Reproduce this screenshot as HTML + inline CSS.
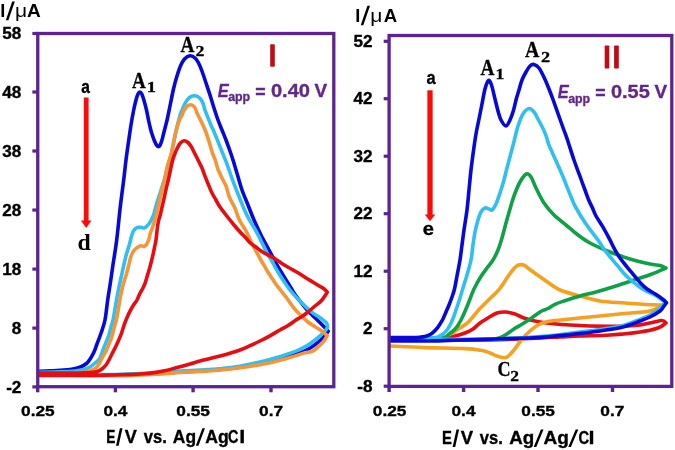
<!DOCTYPE html>
<html><head><meta charset="utf-8"><title>Cyclic voltammograms</title>
<style>
html,body{margin:0;padding:0;background:#fff;}
body{width:675px;height:450px;overflow:hidden;font-family:"Liberation Sans",sans-serif;}
svg{display:block;will-change:transform;}
</style></head><body>
<svg width="675" height="450" viewBox="0 0 675 450">
<path d="M39.00 371.30 C40.83 371.23 46.50 371.05 50.00 370.90 C53.50 370.75 56.40 370.68 60.00 370.40 C63.60 370.12 68.20 369.77 71.60 369.20 C75.00 368.63 77.92 367.95 80.40 367.00 C82.88 366.05 84.85 364.88 86.50 363.50 C88.15 362.12 89.05 360.62 90.30 358.70 C91.55 356.78 92.88 354.45 94.00 352.00 C95.12 349.55 95.83 347.12 97.00 344.00 C98.17 340.88 99.67 337.30 101.00 333.30 C102.33 329.30 103.88 325.55 105.00 320.00 C106.12 314.45 106.78 306.33 107.70 300.00 C108.62 293.67 109.67 287.55 110.50 282.00 C111.33 276.45 111.67 273.70 112.70 266.70 C113.73 259.70 115.43 250.00 116.70 240.00 C117.97 230.00 119.13 216.70 120.30 206.70 C121.47 196.70 122.75 187.78 123.70 180.00 C124.65 172.22 125.20 166.33 126.00 160.00 C126.80 153.67 127.67 147.83 128.50 142.00 C129.33 136.17 130.17 130.17 131.00 125.00 C131.83 119.83 132.67 115.17 133.50 111.00 C134.33 106.83 135.25 102.83 136.00 100.00 C136.75 97.17 137.37 95.33 138.00 94.00 C138.63 92.67 139.17 92.00 139.80 92.00 C140.43 92.00 141.10 92.58 141.80 94.00 C142.50 95.42 143.22 97.83 144.00 100.50 C144.78 103.17 145.75 106.75 146.50 110.00 C147.25 113.25 147.87 117.00 148.50 120.00 C149.13 123.00 149.72 125.67 150.30 128.00 C150.88 130.33 151.33 131.92 152.00 134.00 C152.67 136.08 153.55 138.67 154.30 140.50 C155.05 142.33 155.85 143.98 156.50 145.00 C157.15 146.02 157.58 146.60 158.20 146.60 C158.82 146.60 159.57 146.10 160.20 145.00 C160.83 143.90 161.45 141.83 162.00 140.00 C162.55 138.17 162.95 136.17 163.50 134.00 C164.05 131.83 164.67 129.50 165.30 127.00 C165.93 124.50 166.45 122.83 167.30 119.00 C168.15 115.17 169.37 109.00 170.40 104.00 C171.43 99.00 172.40 93.67 173.50 89.00 C174.60 84.33 175.83 79.83 177.00 76.00 C178.17 72.17 179.25 68.83 180.50 66.00 C181.75 63.17 182.92 60.70 184.50 59.00 C186.08 57.30 188.17 55.88 190.00 55.80 C191.83 55.72 193.92 56.97 195.50 58.50 C197.08 60.03 198.25 62.42 199.50 65.00 C200.75 67.58 201.92 71.00 203.00 74.00 C204.08 77.00 204.83 79.50 206.00 83.00 C207.17 86.50 208.67 90.83 210.00 95.00 C211.33 99.17 212.67 103.83 214.00 108.00 C215.33 112.17 216.67 116.33 218.00 120.00 C219.33 123.67 220.67 126.67 222.00 130.00 C223.33 133.33 224.67 136.50 226.00 140.00 C227.33 143.50 228.83 147.67 230.00 151.00 C231.17 154.33 231.75 156.00 233.00 160.00 C234.25 164.00 236.00 170.00 237.50 175.00 C239.00 180.00 240.25 185.00 242.00 190.00 C243.75 195.00 246.00 200.00 248.00 205.00 C250.00 210.00 251.83 215.00 254.00 220.00 C256.17 225.00 258.50 230.00 261.00 235.00 C263.50 240.00 266.33 245.00 269.00 250.00 C271.67 255.00 274.33 260.28 277.00 265.00 C279.67 269.72 282.67 274.47 285.00 278.30 C287.33 282.13 289.15 285.03 291.00 288.00 C292.85 290.97 294.35 293.60 296.10 296.10 C297.85 298.60 299.65 300.68 301.50 303.00 C303.35 305.32 305.32 307.90 307.20 310.00 C309.08 312.10 310.57 313.38 312.80 315.60 C315.03 317.82 318.40 321.08 320.60 323.30 C322.80 325.52 324.73 327.57 326.00 328.90 C327.27 330.23 327.83 330.90 328.20 331.30 C327.48 332.20 325.55 334.88 323.90 336.70 C322.25 338.52 320.52 340.35 318.30 342.20 C316.08 344.05 313.37 346.13 310.60 347.80 C307.83 349.47 305.03 350.90 301.70 352.20 C298.37 353.50 294.22 354.42 290.60 355.60 C286.98 356.78 283.43 358.33 280.00 359.30 C276.57 360.27 273.33 360.72 270.00 361.40 C266.67 362.08 263.33 362.75 260.00 363.40 C256.67 364.05 253.33 364.67 250.00 365.30 C246.67 365.93 245.00 366.50 240.00 367.20 C235.00 367.90 226.67 368.87 220.00 369.50 C213.33 370.13 206.67 370.58 200.00 371.00 C193.33 371.42 186.67 371.58 180.00 372.00 C173.33 372.42 168.33 373.08 160.00 373.50 C151.67 373.92 140.00 374.25 130.00 374.50 C120.00 374.75 110.00 374.92 100.00 375.00 C90.00 375.08 80.17 375.00 70.00 375.00 C59.83 375.00 44.17 375.00 39.00 375.00" fill="none" stroke="#0808d8" stroke-width="3.60" stroke-linejoin="round" stroke-linecap="round"/>
<path d="M39.00 372.30 C42.50 372.22 54.00 372.02 60.00 371.80 C66.00 371.58 71.00 371.38 75.00 371.00 C79.00 370.62 81.50 370.17 84.00 369.50 C86.50 368.83 88.17 368.08 90.00 367.00 C91.83 365.92 93.38 364.38 95.00 363.00 C96.62 361.62 98.25 361.20 99.70 358.70 C101.15 356.20 102.48 351.12 103.70 348.00 C104.92 344.88 106.12 342.22 107.00 340.00 C107.88 337.78 108.33 336.87 109.00 334.70 C109.67 332.53 110.33 329.45 111.00 327.00 C111.67 324.55 112.37 322.83 113.00 320.00 C113.63 317.17 114.18 313.55 114.80 310.00 C115.42 306.45 116.00 302.53 116.70 298.70 C117.40 294.87 118.12 291.23 119.00 287.00 C119.88 282.77 121.08 277.47 122.00 273.30 C122.92 269.13 123.72 265.33 124.50 262.00 C125.28 258.67 125.95 255.97 126.70 253.30 C127.45 250.63 128.35 248.22 129.00 246.00 C129.65 243.78 130.15 241.75 130.60 240.00 C131.05 238.25 131.18 237.05 131.70 235.50 C132.22 233.95 132.98 231.92 133.70 230.70 C134.42 229.48 135.23 228.77 136.00 228.20 C136.77 227.63 137.47 227.43 138.30 227.30 C139.13 227.17 140.00 227.28 141.00 227.40 C142.00 227.52 143.30 228.23 144.30 228.00 C145.30 227.77 146.10 226.88 147.00 226.00 C147.90 225.12 148.90 223.87 149.70 222.70 C150.50 221.53 151.13 220.33 151.80 219.00 C152.47 217.67 153.13 216.37 153.70 214.70 C154.27 213.03 154.72 210.78 155.20 209.00 C155.68 207.22 156.05 205.83 156.60 204.00 C157.15 202.17 157.80 200.17 158.50 198.00 C159.20 195.83 160.07 193.33 160.80 191.00 C161.53 188.67 162.22 186.17 162.90 184.00 C163.58 181.83 164.12 180.88 164.90 178.00 C165.68 175.12 166.82 169.70 167.60 166.70 C168.38 163.70 168.93 162.23 169.60 160.00 C170.27 157.77 170.93 156.08 171.60 153.30 C172.27 150.52 172.93 146.63 173.60 143.30 C174.27 139.97 175.00 136.18 175.60 133.30 C176.20 130.42 176.67 128.22 177.20 126.00 C177.73 123.78 178.28 121.92 178.80 120.00 C179.32 118.08 179.77 116.13 180.30 114.50 C180.83 112.87 181.30 111.87 182.00 110.20 C182.70 108.53 183.58 106.28 184.50 104.50 C185.42 102.72 186.50 100.78 187.50 99.50 C188.50 98.22 189.35 97.42 190.50 96.80 C191.65 96.18 193.15 95.80 194.40 95.80 C195.65 95.80 196.90 96.18 198.00 96.80 C199.10 97.42 200.13 98.30 201.00 99.50 C201.87 100.70 202.53 102.22 203.20 104.00 C203.87 105.78 204.15 107.78 205.00 110.20 C205.85 112.62 207.18 115.72 208.30 118.50 C209.42 121.28 210.87 124.98 211.70 126.90 C212.53 128.82 212.28 127.63 213.30 130.00 C214.32 132.37 216.32 137.40 217.80 141.10 C219.28 144.80 220.72 148.50 222.20 152.20 C223.68 155.90 225.03 158.85 226.70 163.30 C228.37 167.75 230.65 174.62 232.20 178.90 C233.75 183.18 234.70 185.65 236.00 189.00 C237.30 192.35 238.58 195.50 240.00 199.00 C241.42 202.50 242.93 206.50 244.50 210.00 C246.07 213.50 247.47 216.48 249.40 220.00 C251.33 223.52 254.05 227.40 256.10 231.10 C258.15 234.80 259.85 238.50 261.70 242.20 C263.55 245.90 265.48 250.17 267.20 253.30 C268.92 256.43 270.52 258.40 272.00 261.00 C273.48 263.60 274.27 265.73 276.10 268.90 C277.93 272.07 280.68 276.48 283.00 280.00 C285.32 283.52 287.50 286.83 290.00 290.00 C292.50 293.17 295.50 296.33 298.00 299.00 C300.50 301.67 302.72 303.80 305.00 306.00 C307.28 308.20 309.70 310.57 311.70 312.20 C313.70 313.83 315.33 314.68 317.00 315.80 C318.67 316.92 320.37 317.95 321.70 318.90 C323.03 319.85 324.15 320.73 325.00 321.50 C325.85 322.27 326.37 322.58 326.80 323.50 C327.23 324.42 327.47 326.42 327.60 327.00 C327.17 327.67 325.98 329.77 325.00 331.00 C324.02 332.23 323.37 332.90 321.70 334.40 C320.03 335.90 317.42 338.13 315.00 340.00 C312.58 341.87 310.35 343.75 307.20 345.60 C304.05 347.45 299.80 349.53 296.10 351.10 C292.40 352.67 289.35 353.60 285.00 355.00 C280.65 356.40 275.00 358.17 270.00 359.50 C265.00 360.83 260.00 361.87 255.00 363.00 C250.00 364.13 245.83 365.35 240.00 366.30 C234.17 367.25 226.67 368.08 220.00 368.70 C213.33 369.32 206.67 369.62 200.00 370.00 C193.33 370.38 186.67 370.58 180.00 371.00 C173.33 371.42 168.33 372.00 160.00 372.50 C151.67 373.00 140.00 373.65 130.00 374.00 C120.00 374.35 110.00 374.52 100.00 374.60 C90.00 374.68 80.17 374.60 70.00 374.50 C59.83 374.40 44.17 374.08 39.00 374.00" fill="none" stroke="#30bff0" stroke-width="3.60" stroke-linejoin="round" stroke-linecap="round"/>
<path d="M39.00 373.50 C42.50 373.42 53.17 373.17 60.00 373.00 C66.83 372.83 75.00 372.83 80.00 372.50 C85.00 372.17 87.33 371.75 90.00 371.00 C92.67 370.25 94.42 369.33 96.00 368.00 C97.58 366.67 98.55 364.55 99.50 363.00 C100.45 361.45 100.57 360.75 101.70 358.70 C102.83 356.65 105.08 353.15 106.30 350.70 C107.52 348.25 108.10 346.23 109.00 344.00 C109.90 341.77 110.87 339.97 111.70 337.30 C112.53 334.63 113.23 330.88 114.00 328.00 C114.77 325.12 115.60 323.00 116.30 320.00 C117.00 317.00 117.62 313.33 118.20 310.00 C118.78 306.67 119.30 302.83 119.80 300.00 C120.30 297.17 120.72 295.22 121.20 293.00 C121.68 290.78 122.15 288.87 122.70 286.70 C123.25 284.53 123.83 282.23 124.50 280.00 C125.17 277.77 125.98 275.80 126.70 273.30 C127.42 270.80 128.13 267.67 128.80 265.00 C129.47 262.33 130.13 259.22 130.70 257.30 C131.27 255.38 131.65 254.60 132.20 253.50 C132.75 252.40 133.37 251.53 134.00 250.70 C134.63 249.87 135.22 249.17 136.00 248.50 C136.78 247.83 137.82 247.15 138.70 246.70 C139.58 246.25 140.42 245.85 141.30 245.80 C142.18 245.75 143.13 246.62 144.00 246.40 C144.87 246.18 145.70 245.65 146.50 244.50 C147.30 243.35 148.17 241.37 148.80 239.50 C149.43 237.63 149.72 235.22 150.30 233.30 C150.88 231.38 151.63 229.98 152.30 228.00 C152.97 226.02 153.63 223.62 154.30 221.40 C154.97 219.18 155.63 217.27 156.30 214.70 C156.97 212.13 157.63 208.90 158.30 206.00 C158.97 203.10 159.63 200.20 160.30 197.30 C160.97 194.40 161.60 191.48 162.30 188.60 C163.00 185.72 163.67 183.65 164.50 180.00 C165.33 176.35 166.50 170.03 167.30 166.70 C168.10 163.37 168.63 162.23 169.30 160.00 C169.97 157.77 170.63 156.08 171.30 153.30 C171.97 150.52 172.62 146.60 173.30 143.30 C173.98 140.00 174.75 136.23 175.40 133.50 C176.05 130.77 176.53 129.15 177.20 126.90 C177.87 124.65 178.65 121.85 179.40 120.00 C180.15 118.15 180.93 117.38 181.70 115.80 C182.47 114.22 183.12 112.08 184.00 110.50 C184.88 108.92 185.90 107.27 187.00 106.30 C188.10 105.33 189.47 104.70 190.60 104.70 C191.73 104.70 192.93 105.50 193.80 106.30 C194.67 107.10 195.23 108.28 195.80 109.50 C196.37 110.72 196.50 112.02 197.20 113.60 C197.90 115.18 199.07 117.15 200.00 119.00 C200.93 120.85 201.88 122.70 202.80 124.70 C203.72 126.70 204.48 128.27 205.50 131.00 C206.52 133.73 207.78 137.57 208.90 141.10 C210.02 144.63 211.08 148.87 212.20 152.20 C213.32 155.53 214.67 158.32 215.60 161.10 C216.53 163.88 216.97 166.58 217.80 168.90 C218.63 171.22 219.73 173.15 220.60 175.00 C221.47 176.85 222.08 178.15 223.00 180.00 C223.92 181.85 225.03 183.23 226.10 186.10 C227.17 188.97 227.92 193.50 229.40 197.20 C230.88 200.90 233.33 204.50 235.00 208.30 C236.67 212.10 237.55 216.20 239.40 220.00 C241.25 223.80 244.02 227.18 246.10 231.10 C248.18 235.02 250.17 240.02 251.90 243.50 C253.63 246.98 255.00 249.25 256.50 252.00 C258.00 254.75 259.52 257.55 260.90 260.00 C262.28 262.45 263.50 264.48 264.80 266.70 C266.10 268.92 267.38 271.20 268.70 273.30 C270.02 275.40 271.37 277.30 272.70 279.30 C274.03 281.30 275.15 283.18 276.70 285.30 C278.25 287.42 280.23 289.77 282.00 292.00 C283.77 294.23 285.63 296.45 287.30 298.70 C288.97 300.95 290.55 303.53 292.00 305.50 C293.45 307.47 294.67 309.00 296.00 310.50 C297.33 312.00 298.67 313.17 300.00 314.50 C301.33 315.83 302.67 317.25 304.00 318.50 C305.33 319.75 306.50 320.83 308.00 322.00 C309.50 323.17 311.33 324.42 313.00 325.50 C314.67 326.58 316.33 327.42 318.00 328.50 C319.67 329.58 321.47 330.82 323.00 332.00 C324.53 333.18 326.50 335.00 327.20 335.60 C326.65 336.52 325.38 339.25 323.90 341.10 C322.42 342.95 320.15 345.03 318.30 346.70 C316.45 348.37 315.02 350.08 312.80 351.10 C310.58 352.12 307.78 352.05 305.00 352.80 C302.22 353.55 299.43 354.58 296.10 355.60 C292.77 356.62 289.35 357.70 285.00 358.90 C280.65 360.10 275.00 361.70 270.00 362.80 C265.00 363.90 260.00 364.67 255.00 365.50 C250.00 366.33 245.83 367.05 240.00 367.80 C234.17 368.55 226.67 369.38 220.00 370.00 C213.33 370.62 206.67 371.08 200.00 371.50 C193.33 371.92 186.67 372.08 180.00 372.50 C173.33 372.92 168.33 373.50 160.00 374.00 C151.67 374.50 140.00 375.20 130.00 375.50 C120.00 375.80 110.00 375.83 100.00 375.80 C90.00 375.77 80.17 375.43 70.00 375.30 C59.83 375.17 44.17 375.05 39.00 375.00" fill="none" stroke="#f59538" stroke-width="3.60" stroke-linejoin="round" stroke-linecap="round"/>
<path d="M39.00 373.00 C42.50 373.00 53.17 373.00 60.00 373.00 C66.83 373.00 75.00 373.07 80.00 373.00 C85.00 372.93 87.50 372.77 90.00 372.60 C92.50 372.43 93.50 372.30 95.00 372.00 C96.50 371.70 97.75 371.38 99.00 370.80 C100.25 370.22 101.33 369.47 102.50 368.50 C103.67 367.53 104.92 366.42 106.00 365.00 C107.08 363.58 107.97 361.92 109.00 360.00 C110.03 358.08 111.08 355.72 112.20 353.50 C113.32 351.28 114.65 348.87 115.70 346.70 C116.75 344.53 117.62 342.50 118.50 340.50 C119.38 338.50 120.25 336.70 121.00 334.70 C121.75 332.70 122.33 330.50 123.00 328.50 C123.67 326.50 124.25 324.70 125.00 322.70 C125.75 320.70 126.62 318.50 127.50 316.50 C128.38 314.50 129.30 312.62 130.30 310.70 C131.30 308.78 132.38 306.78 133.50 305.00 C134.62 303.22 135.92 301.95 137.00 300.00 C138.08 298.05 139.00 295.30 140.00 293.30 C141.00 291.30 142.12 289.77 143.00 288.00 C143.88 286.23 144.55 284.87 145.30 282.70 C146.05 280.53 146.83 277.23 147.50 275.00 C148.17 272.77 148.63 271.63 149.30 269.30 C149.97 266.97 150.83 263.67 151.50 261.00 C152.17 258.33 152.75 255.80 153.30 253.30 C153.85 250.80 154.35 248.22 154.80 246.00 C155.25 243.78 155.63 242.50 156.00 240.00 C156.37 237.50 156.62 234.00 157.00 231.00 C157.38 228.00 157.75 224.72 158.30 222.00 C158.85 219.28 159.63 217.37 160.30 214.70 C160.97 212.03 161.63 208.90 162.30 206.00 C162.97 203.10 163.63 200.30 164.30 197.30 C164.97 194.30 165.63 190.88 166.30 188.00 C166.97 185.12 167.68 182.67 168.30 180.00 C168.92 177.33 169.27 175.33 170.00 172.00 C170.73 168.67 171.90 163.00 172.70 160.00 C173.50 157.00 174.13 155.78 174.80 154.00 C175.47 152.22 175.83 151.05 176.70 149.30 C177.57 147.55 178.78 144.93 180.00 143.50 C181.22 142.07 182.67 140.87 184.00 140.70 C185.33 140.53 186.78 141.50 188.00 142.50 C189.22 143.50 190.30 145.12 191.30 146.70 C192.30 148.28 193.10 150.23 194.00 152.00 C194.90 153.77 195.78 155.47 196.70 157.30 C197.62 159.13 198.62 161.22 199.50 163.00 C200.38 164.78 201.25 166.25 202.00 168.00 C202.75 169.75 203.33 171.72 204.00 173.50 C204.67 175.28 205.17 176.62 206.00 178.70 C206.83 180.78 208.00 183.62 209.00 186.00 C210.00 188.38 210.83 190.67 212.00 193.00 C213.17 195.33 214.67 197.67 216.00 200.00 C217.33 202.33 218.33 204.50 220.00 207.00 C221.67 209.50 223.67 212.00 226.00 215.00 C228.33 218.00 231.50 222.00 234.00 225.00 C236.50 228.00 239.17 231.00 241.00 233.00 C242.83 235.00 243.50 235.38 245.00 237.00 C246.50 238.62 248.25 241.07 250.00 242.70 C251.75 244.33 253.72 245.47 255.50 246.80 C257.28 248.13 258.87 249.47 260.70 250.70 C262.53 251.93 264.50 253.10 266.50 254.20 C268.50 255.30 270.67 256.12 272.70 257.30 C274.73 258.48 276.70 259.97 278.70 261.30 C280.70 262.63 282.70 264.07 284.70 265.30 C286.70 266.53 288.70 267.58 290.70 268.70 C292.70 269.82 294.82 270.90 296.70 272.00 C298.58 273.10 300.23 274.18 302.00 275.30 C303.77 276.42 305.52 277.58 307.30 278.70 C309.08 279.82 310.92 280.90 312.70 282.00 C314.48 283.10 316.53 284.43 318.00 285.30 C319.47 286.17 320.38 286.53 321.50 287.20 C322.62 287.87 323.73 288.45 324.70 289.30 C325.67 290.15 326.87 291.80 327.30 292.30 C326.42 293.58 324.05 297.72 322.00 300.00 C319.95 302.28 317.33 304.00 315.00 306.00 C312.67 308.00 310.17 310.25 308.00 312.00 C305.83 313.75 304.00 315.17 302.00 316.50 C300.00 317.83 298.33 318.50 296.00 320.00 C293.67 321.50 290.67 323.83 288.00 325.50 C285.33 327.17 283.00 328.28 280.00 330.00 C277.00 331.72 273.33 333.97 270.00 335.80 C266.67 337.63 263.33 339.35 260.00 341.00 C256.67 342.65 253.33 344.20 250.00 345.70 C246.67 347.20 243.33 348.75 240.00 350.00 C236.67 351.25 233.33 352.20 230.00 353.20 C226.67 354.20 223.33 355.10 220.00 356.00 C216.67 356.90 213.33 357.77 210.00 358.60 C206.67 359.43 203.33 360.10 200.00 361.00 C196.67 361.90 194.00 362.87 190.00 364.00 C186.00 365.13 180.00 366.72 176.00 367.80 C172.00 368.88 169.33 369.73 166.00 370.50 C162.67 371.27 160.33 371.82 156.00 372.40 C151.67 372.98 146.00 373.60 140.00 374.00 C134.00 374.40 126.67 374.60 120.00 374.80 C113.33 375.00 106.67 375.08 100.00 375.20 C93.33 375.32 86.67 375.45 80.00 375.50 C73.33 375.55 66.83 375.50 60.00 375.50 C53.17 375.50 42.50 375.50 39.00 375.50" fill="none" stroke="#e50d12" stroke-width="3.60" stroke-linejoin="round" stroke-linecap="round"/>
<path d="M390.00 339.00 C398.33 338.83 429.17 338.50 440.00 338.00 C450.83 337.50 450.83 336.83 455.00 336.00 C459.17 335.17 462.00 334.17 465.00 333.00 C468.00 331.83 470.50 330.67 473.00 329.00 C475.50 327.33 477.50 324.83 480.00 323.00 C482.50 321.17 485.17 319.67 488.00 318.00 C490.83 316.33 494.00 314.00 497.00 313.00 C500.00 312.00 503.00 311.83 506.00 312.00 C509.00 312.17 512.00 313.00 515.00 314.00 C518.00 315.00 519.83 316.67 524.00 318.00 C528.17 319.33 532.33 320.83 540.00 322.00 C547.67 323.17 558.33 324.27 570.00 325.00 C581.67 325.73 599.17 326.32 610.00 326.40 C620.83 326.48 628.33 326.07 635.00 325.50 C641.67 324.93 645.50 323.83 650.00 323.00 C654.50 322.17 659.33 320.50 662.00 320.50 C664.67 320.50 665.33 322.58 666.00 323.00 C664.67 323.83 662.33 326.50 658.00 328.00 C653.67 329.50 648.00 330.83 640.00 332.00 C632.00 333.17 620.00 334.33 610.00 335.00 C600.00 335.67 588.33 335.67 580.00 336.00 C571.67 336.33 566.67 336.67 560.00 337.00 C553.33 337.33 551.67 337.50 540.00 338.00 C528.33 338.50 515.00 339.67 490.00 340.00 C465.00 340.33 406.67 340.00 390.00 340.00" fill="none" stroke="#e50d12" stroke-width="3.60" stroke-linejoin="round" stroke-linecap="round"/>
<path d="M390.00 338.00 C398.33 337.92 430.67 337.80 440.00 337.50 C449.33 337.20 444.00 336.90 446.00 336.20 C448.00 335.50 449.83 334.57 452.00 333.30 C454.17 332.03 456.37 330.38 459.00 328.60 C461.63 326.82 465.30 324.78 467.80 322.60 C470.30 320.42 471.93 317.88 474.00 315.50 C476.07 313.12 478.28 310.38 480.20 308.30 C482.12 306.22 483.72 304.77 485.50 303.00 C487.28 301.23 489.23 299.32 490.90 297.70 C492.57 296.08 494.02 294.82 495.50 293.30 C496.98 291.78 498.47 290.25 499.80 288.60 C501.13 286.95 502.32 285.15 503.50 283.40 C504.68 281.65 505.73 279.83 506.90 278.10 C508.07 276.37 509.32 274.60 510.50 273.00 C511.68 271.40 512.83 269.75 514.00 268.50 C515.17 267.25 516.32 266.15 517.50 265.50 C518.68 264.85 519.85 264.57 521.10 264.60 C522.35 264.63 523.82 265.08 525.00 265.70 C526.18 266.32 526.37 266.92 528.20 268.30 C530.03 269.68 533.03 271.88 536.00 274.00 C538.97 276.12 542.00 278.33 546.00 281.00 C550.00 283.67 554.33 287.50 560.00 290.00 C565.67 292.50 573.33 294.17 580.00 296.00 C586.67 297.83 592.50 299.83 600.00 301.00 C607.50 302.17 617.50 302.42 625.00 303.00 C632.50 303.58 638.67 304.17 645.00 304.50 C651.33 304.83 660.00 304.92 663.00 305.00 C660.83 306.00 656.33 309.58 650.00 311.00 C643.67 312.42 633.33 312.67 625.00 313.50 C616.67 314.33 609.17 315.08 600.00 316.00 C590.83 316.92 577.50 318.25 570.00 319.00 C562.50 319.75 559.00 320.00 555.00 320.50 C551.00 321.00 548.83 321.25 546.00 322.00 C543.17 322.75 540.67 323.50 538.00 325.00 C535.33 326.50 532.67 328.67 530.00 331.00 C527.33 333.33 524.67 335.83 522.00 339.00 C519.33 342.17 516.67 346.92 514.00 350.00 C511.33 353.08 508.83 356.50 506.00 357.50 C503.17 358.50 499.67 356.75 497.00 356.00 C494.33 355.25 492.67 353.95 490.00 353.00 C487.33 352.05 485.17 351.03 481.00 350.30 C476.83 349.57 474.33 349.05 465.00 348.60 C455.67 348.15 437.50 348.03 425.00 347.60 C412.50 347.17 395.83 346.27 390.00 346.00" fill="none" stroke="#f5a01e" stroke-width="3.60" stroke-linejoin="round" stroke-linecap="round"/>
<path d="M390.00 339.00 C398.33 338.83 430.17 338.83 440.00 338.00 C449.83 337.17 446.33 335.67 449.00 334.00 C451.67 332.33 454.00 330.33 456.00 328.00 C458.00 325.67 459.33 323.17 461.00 320.00 C462.67 316.83 464.50 312.50 466.00 309.00 C467.50 305.50 468.67 302.33 470.00 299.00 C471.33 295.67 472.33 292.50 474.00 289.00 C475.67 285.50 477.83 281.50 480.00 278.00 C482.17 274.50 484.83 271.00 487.00 268.00 C489.17 265.00 491.17 263.00 493.00 260.00 C494.83 257.00 496.50 253.67 498.00 250.00 C499.50 246.33 500.67 242.50 502.00 238.00 C503.33 233.50 504.67 227.83 506.00 223.00 C507.33 218.17 508.67 213.50 510.00 209.00 C511.33 204.50 512.33 200.50 514.00 196.00 C515.67 191.50 517.93 185.67 520.00 182.00 C522.07 178.33 524.57 174.83 526.40 174.00 C528.23 173.17 529.40 174.67 531.00 177.00 C532.60 179.33 533.83 183.67 536.00 188.00 C538.17 192.33 541.00 198.50 544.00 203.00 C547.00 207.50 550.33 211.33 554.00 215.00 C557.67 218.67 562.00 221.67 566.00 225.00 C570.00 228.33 574.00 232.00 578.00 235.00 C582.00 238.00 584.67 240.17 590.00 243.00 C595.33 245.83 603.33 249.33 610.00 252.00 C616.67 254.67 623.33 257.00 630.00 259.00 C636.67 261.00 645.00 262.92 650.00 264.00 C655.00 265.08 657.33 264.83 660.00 265.50 C662.67 266.17 665.00 267.58 666.00 268.00 C663.67 269.00 657.33 272.00 652.00 274.00 C646.67 276.00 640.00 278.00 634.00 280.00 C628.00 282.00 622.33 284.00 616.00 286.00 C609.67 288.00 602.00 290.33 596.00 292.00 C590.00 293.67 585.33 294.50 580.00 296.00 C574.67 297.50 568.17 299.62 564.00 301.00 C559.83 302.38 557.67 303.05 555.00 304.30 C552.33 305.55 550.22 307.38 548.00 308.50 C545.78 309.62 543.87 309.83 541.70 311.00 C539.53 312.17 537.23 313.95 535.00 315.50 C532.77 317.05 530.55 318.80 528.30 320.30 C526.05 321.80 523.72 323.17 521.50 324.50 C519.28 325.83 517.08 326.97 515.00 328.30 C512.92 329.63 511.00 331.17 509.00 332.50 C507.00 333.83 505.00 335.30 503.00 336.30 C501.00 337.30 499.17 337.97 497.00 338.50 C494.83 339.03 507.83 339.25 490.00 339.50 C472.17 339.75 406.67 339.92 390.00 340.00" fill="none" stroke="#10a048" stroke-width="3.60" stroke-linejoin="round" stroke-linecap="round"/>
<path d="M390.00 339.00 C396.67 338.83 421.67 338.50 430.00 338.00 C438.33 337.50 437.17 337.33 440.00 336.00 C442.83 334.67 445.00 332.50 447.00 330.00 C449.00 327.50 450.50 324.33 452.00 321.00 C453.50 317.67 454.67 313.83 456.00 310.00 C457.33 306.17 458.83 301.67 460.00 298.00 C461.17 294.33 461.83 291.83 463.00 288.00 C464.17 284.17 465.67 279.67 467.00 275.00 C468.33 270.33 470.00 265.00 471.00 260.00 C472.00 255.00 472.33 249.67 473.00 245.00 C473.67 240.33 474.17 236.17 475.00 232.00 C475.83 227.83 477.00 223.33 478.00 220.00 C479.00 216.67 479.83 214.00 481.00 212.00 C482.17 210.00 483.67 208.50 485.00 208.00 C486.33 207.50 487.83 208.67 489.00 209.00 C490.17 209.33 490.83 210.83 492.00 210.00 C493.17 209.17 494.67 206.83 496.00 204.00 C497.33 201.17 498.67 197.00 500.00 193.00 C501.33 189.00 502.83 184.17 504.00 180.00 C505.17 175.83 505.83 172.50 507.00 168.00 C508.17 163.50 509.77 157.67 511.00 153.00 C512.23 148.33 513.23 144.50 514.40 140.00 C515.57 135.50 516.57 130.33 518.00 126.00 C519.43 121.67 521.17 116.92 523.00 114.00 C524.83 111.08 527.17 108.83 529.00 108.50 C530.83 108.17 532.42 110.08 534.00 112.00 C535.58 113.92 536.88 117.00 538.50 120.00 C540.12 123.00 542.37 127.17 543.70 130.00 C545.03 132.83 545.73 134.78 546.50 137.00 C547.27 139.22 547.33 140.68 548.30 143.30 C549.27 145.92 550.73 149.13 552.30 152.70 C553.87 156.27 555.92 160.70 557.70 164.70 C559.48 168.70 561.33 172.70 563.00 176.70 C564.67 180.70 566.28 185.15 567.70 188.70 C569.12 192.25 570.20 194.95 571.50 198.00 C572.80 201.05 573.08 202.67 575.50 207.00 C577.92 211.33 582.25 218.50 586.00 224.00 C589.75 229.50 595.08 235.92 598.00 240.00 C600.92 244.08 601.67 245.92 603.50 248.50 C605.33 251.08 606.80 252.80 609.00 255.50 C611.20 258.20 614.32 261.83 616.70 264.70 C619.08 267.57 621.08 270.27 623.30 272.70 C625.52 275.13 627.77 277.30 630.00 279.30 C632.23 281.30 634.48 283.00 636.70 284.70 C638.92 286.40 641.25 288.23 643.30 289.50 C645.35 290.77 647.00 291.35 649.00 292.30 C651.00 293.25 653.38 294.12 655.30 295.20 C657.22 296.28 658.80 297.57 660.50 298.80 C662.20 300.03 664.67 301.97 665.50 302.60 C664.25 303.83 660.58 307.90 658.00 310.00 C655.42 312.10 653.00 313.65 650.00 315.20 C647.00 316.75 643.33 317.97 640.00 319.30 C636.67 320.63 633.33 322.03 630.00 323.20 C626.67 324.37 625.00 325.25 620.00 326.30 C615.00 327.35 608.33 328.35 600.00 329.50 C591.67 330.65 579.00 332.12 570.00 333.20 C561.00 334.28 559.33 335.03 546.00 336.00 C532.67 336.97 516.00 338.50 490.00 339.00 C464.00 339.50 406.67 339.00 390.00 339.00" fill="none" stroke="#30bff0" stroke-width="3.60" stroke-linejoin="round" stroke-linecap="round"/>
<path d="M390.00 337.50 C393.33 337.50 405.00 337.55 410.00 337.50 C415.00 337.45 417.50 337.37 420.00 337.20 C422.50 337.03 423.17 337.03 425.00 336.50 C426.83 335.97 429.17 335.17 431.00 334.00 C432.83 332.83 434.50 331.17 436.00 329.50 C437.50 327.83 438.83 325.75 440.00 324.00 C441.17 322.25 442.00 321.00 443.00 319.00 C444.00 317.00 445.00 314.33 446.00 312.00 C447.00 309.67 448.00 307.50 449.00 305.00 C450.00 302.50 451.08 299.67 452.00 297.00 C452.92 294.33 453.67 292.50 454.50 289.00 C455.33 285.50 456.08 280.83 457.00 276.00 C457.92 271.17 459.17 265.17 460.00 260.00 C460.83 254.83 461.33 250.00 462.00 245.00 C462.67 240.00 463.17 235.83 464.00 230.00 C464.83 224.17 466.17 216.67 467.00 210.00 C467.83 203.33 468.33 196.67 469.00 190.00 C469.67 183.33 470.23 176.67 471.00 170.00 C471.77 163.33 472.77 156.00 473.60 150.00 C474.43 144.00 475.10 139.17 476.00 134.00 C476.90 128.83 478.00 124.00 479.00 119.00 C480.00 114.00 481.00 109.00 482.00 104.00 C483.00 99.00 483.93 92.90 485.00 89.00 C486.07 85.10 487.32 81.27 488.40 80.60 C489.48 79.93 490.40 81.93 491.50 85.00 C492.60 88.07 493.92 94.67 495.00 99.00 C496.08 103.33 497.00 107.50 498.00 111.00 C499.00 114.50 499.67 117.50 501.00 120.00 C502.33 122.50 504.50 126.00 506.00 126.00 C507.50 126.00 508.73 122.67 510.00 120.00 C511.27 117.33 512.60 113.33 513.60 110.00 C514.60 106.67 515.10 103.33 516.00 100.00 C516.90 96.67 518.00 93.33 519.00 90.00 C520.00 86.67 520.83 83.00 522.00 80.00 C523.17 77.00 524.67 74.33 526.00 72.00 C527.33 69.67 528.67 67.25 530.00 66.00 C531.33 64.75 532.50 64.17 534.00 64.50 C535.50 64.83 537.20 65.58 539.00 68.00 C540.80 70.42 543.13 75.50 544.80 79.00 C546.47 82.50 547.60 85.50 549.00 89.00 C550.40 92.50 551.62 95.67 553.20 100.00 C554.78 104.33 556.78 110.17 558.50 115.00 C560.22 119.83 562.00 124.83 563.50 129.00 C565.00 133.17 565.75 134.83 567.50 140.00 C569.25 145.17 571.70 153.33 574.00 160.00 C576.30 166.67 579.47 175.00 581.30 180.00 C583.13 185.00 583.77 186.67 585.00 190.00 C586.23 193.33 587.45 197.00 588.70 200.00 C589.95 203.00 591.28 205.33 592.50 208.00 C593.72 210.67 594.30 212.88 596.00 216.00 C597.70 219.12 600.48 222.92 602.70 226.70 C604.92 230.48 607.30 234.93 609.30 238.70 C611.30 242.47 612.88 246.03 614.70 249.30 C616.52 252.57 618.10 255.30 620.20 258.30 C622.30 261.30 625.00 264.47 627.30 267.30 C629.60 270.13 631.77 272.63 634.00 275.30 C636.23 277.97 638.48 280.97 640.70 283.30 C642.92 285.63 644.87 287.52 647.30 289.30 C649.73 291.08 652.68 292.33 655.30 294.00 C657.92 295.67 661.13 297.85 663.00 299.30 C664.87 300.75 665.92 302.13 666.50 302.70 C665.92 303.50 664.08 306.12 663.00 307.50 C661.92 308.88 662.17 309.42 660.00 311.00 C657.83 312.58 653.33 315.33 650.00 317.00 C646.67 318.67 643.33 319.70 640.00 321.00 C636.67 322.30 633.33 323.67 630.00 324.80 C626.67 325.93 625.00 326.77 620.00 327.80 C615.00 328.83 608.33 329.87 600.00 331.00 C591.67 332.13 579.00 333.60 570.00 334.60 C561.00 335.60 552.67 336.43 546.00 337.00 C539.33 337.57 538.50 337.67 530.00 338.00 C521.50 338.33 506.67 338.67 495.00 339.00 C483.33 339.33 470.83 339.67 460.00 340.00 C449.17 340.33 441.67 340.83 430.00 341.00 C418.33 341.17 396.67 341.00 390.00 341.00" fill="none" stroke="#0808d8" stroke-width="3.60" stroke-linejoin="round" stroke-linecap="round"/>
<rect x="37.75" y="33.50" width="296.05" height="353.20" fill="none" stroke="#5e2296" stroke-width="3.30"/>
<rect x="32.35" y="31.90" width="5.40" height="3.2" fill="#5e2296"/>
<rect x="32.35" y="90.40" width="5.40" height="3.2" fill="#5e2296"/>
<rect x="32.35" y="149.40" width="5.40" height="3.2" fill="#5e2296"/>
<rect x="32.35" y="208.45" width="5.40" height="3.2" fill="#5e2296"/>
<rect x="32.35" y="267.50" width="5.40" height="3.2" fill="#5e2296"/>
<rect x="32.35" y="326.50" width="5.40" height="3.2" fill="#5e2296"/>
<rect x="32.35" y="385.30" width="5.40" height="3.2" fill="#5e2296"/>
<rect x="36.00" y="386.70" width="3.4" height="5.60" fill="#5e2296"/>
<rect x="113.70" y="386.70" width="3.4" height="5.60" fill="#5e2296"/>
<rect x="191.40" y="386.70" width="3.4" height="5.60" fill="#5e2296"/>
<rect x="269.30" y="386.70" width="3.4" height="5.60" fill="#5e2296"/>
<rect x="389.10" y="35.50" width="282.70" height="350.90" fill="none" stroke="#5e2296" stroke-width="3.30"/>
<rect x="383.70" y="39.70" width="5.40" height="3.2" fill="#5e2296"/>
<rect x="383.70" y="97.10" width="5.40" height="3.2" fill="#5e2296"/>
<rect x="383.70" y="154.60" width="5.40" height="3.2" fill="#5e2296"/>
<rect x="383.70" y="212.10" width="5.40" height="3.2" fill="#5e2296"/>
<rect x="383.70" y="269.60" width="5.40" height="3.2" fill="#5e2296"/>
<rect x="383.70" y="327.10" width="5.40" height="3.2" fill="#5e2296"/>
<rect x="383.70" y="384.60" width="5.40" height="3.2" fill="#5e2296"/>
<rect x="387.40" y="386.40" width="3.4" height="5.60" fill="#5e2296"/>
<rect x="461.90" y="386.40" width="3.4" height="5.60" fill="#5e2296"/>
<rect x="536.30" y="386.40" width="3.4" height="5.60" fill="#5e2296"/>
<rect x="610.80" y="386.40" width="3.4" height="5.60" fill="#5e2296"/>
<text transform="translate(2.18 39.30) scale(1.0700 1)" font-family="Liberation Sans" font-weight="bold" font-style="normal" font-size="16.00" fill="#000" stroke="#000" stroke-width="0.35">58</text>
<text transform="translate(2.18 97.80) scale(1.0700 1)" font-family="Liberation Sans" font-weight="bold" font-style="normal" font-size="16.00" fill="#000" stroke="#000" stroke-width="0.35">48</text>
<text transform="translate(2.18 156.80) scale(1.0700 1)" font-family="Liberation Sans" font-weight="bold" font-style="normal" font-size="16.00" fill="#000" stroke="#000" stroke-width="0.35">38</text>
<text transform="translate(2.18 215.85) scale(1.0700 1)" font-family="Liberation Sans" font-weight="bold" font-style="normal" font-size="16.00" fill="#000" stroke="#000" stroke-width="0.35">28</text>
<text transform="translate(2.18 274.90) scale(1.0700 1)" font-family="Liberation Sans" font-weight="bold" font-style="normal" font-size="16.00" fill="#000" stroke="#000" stroke-width="0.35">18</text>
<text transform="translate(11.71 333.90) scale(1.0700 1)" font-family="Liberation Sans" font-weight="bold" font-style="normal" font-size="16.00" fill="#000" stroke="#000" stroke-width="0.35">8</text>
<text transform="translate(6.16 392.70) scale(1.0700 1)" font-family="Liberation Sans" font-weight="bold" font-style="normal" font-size="16.00" fill="#000" stroke="#000" stroke-width="0.35">-2</text>
<text transform="translate(353.54 46.90) scale(1.0700 1)" font-family="Liberation Sans" font-weight="bold" font-style="normal" font-size="16.00" fill="#000" stroke="#000" stroke-width="0.35">52</text>
<text transform="translate(353.54 104.30) scale(1.0700 1)" font-family="Liberation Sans" font-weight="bold" font-style="normal" font-size="16.00" fill="#000" stroke="#000" stroke-width="0.35">42</text>
<text transform="translate(353.54 161.80) scale(1.0700 1)" font-family="Liberation Sans" font-weight="bold" font-style="normal" font-size="16.00" fill="#000" stroke="#000" stroke-width="0.35">32</text>
<text transform="translate(353.54 219.30) scale(1.0700 1)" font-family="Liberation Sans" font-weight="bold" font-style="normal" font-size="16.00" fill="#000" stroke="#000" stroke-width="0.35">22</text>
<text transform="translate(353.54 276.80) scale(1.0700 1)" font-family="Liberation Sans" font-weight="bold" font-style="normal" font-size="16.00" fill="#000" stroke="#000" stroke-width="0.35">12</text>
<text transform="translate(363.06 334.30) scale(1.0700 1)" font-family="Liberation Sans" font-weight="bold" font-style="normal" font-size="16.00" fill="#000" stroke="#000" stroke-width="0.35">2</text>
<text transform="translate(357.20 391.80) scale(1.0700 1)" font-family="Liberation Sans" font-weight="bold" font-style="normal" font-size="16.00" fill="#000" stroke="#000" stroke-width="0.35">-8</text>
<text transform="translate(21.08 416.20) scale(1.1148 1)" font-family="Liberation Sans" font-weight="bold" font-style="normal" font-size="15.50" fill="#000" stroke="#000" stroke-width="0.35">0.25</text>
<text transform="translate(103.39 416.20) scale(1.1148 1)" font-family="Liberation Sans" font-weight="bold" font-style="normal" font-size="15.50" fill="#000" stroke="#000" stroke-width="0.35">0.4</text>
<text transform="translate(176.28 416.20) scale(1.1148 1)" font-family="Liberation Sans" font-weight="bold" font-style="normal" font-size="15.50" fill="#000" stroke="#000" stroke-width="0.35">0.55</text>
<text transform="translate(259.03 416.20) scale(1.1148 1)" font-family="Liberation Sans" font-weight="bold" font-style="normal" font-size="15.50" fill="#000" stroke="#000" stroke-width="0.35">0.7</text>
<text transform="translate(372.78 416.20) scale(1.1148 1)" font-family="Liberation Sans" font-weight="bold" font-style="normal" font-size="15.50" fill="#000" stroke="#000" stroke-width="0.35">0.25</text>
<text transform="translate(451.49 416.20) scale(1.1148 1)" font-family="Liberation Sans" font-weight="bold" font-style="normal" font-size="15.50" fill="#000" stroke="#000" stroke-width="0.35">0.4</text>
<text transform="translate(521.28 416.20) scale(1.1148 1)" font-family="Liberation Sans" font-weight="bold" font-style="normal" font-size="15.50" fill="#000" stroke="#000" stroke-width="0.35">0.55</text>
<text transform="translate(600.33 416.20) scale(1.1148 1)" font-family="Liberation Sans" font-weight="bold" font-style="normal" font-size="15.50" fill="#000" stroke="#000" stroke-width="0.35">0.7</text>
<text transform="translate(0.29 16.90) scale(0.9500 1)" font-family="Liberation Sans" font-weight="bold" font-style="normal" font-size="19.00" fill="#000" stroke="#000" stroke-width="0.01">I</text><polygon points="5.80,20.30 8.40,20.30 14.80,1.40 12.20,1.40" fill="#000"/><text transform="translate(14.96 16.90) scale(1.1371 1)" font-family="Liberation Sans" font-weight="normal" font-style="normal" font-size="18.50" fill="#000">&#956;</text><text transform="translate(27.12 16.90) scale(1.0042 1)" font-family="Liberation Sans" font-weight="bold" font-style="normal" font-size="19.00" fill="#000" stroke="#000" stroke-width="0.01">A</text>
<text transform="translate(355.19 21.80) scale(0.9500 1)" font-family="Liberation Sans" font-weight="bold" font-style="normal" font-size="19.00" fill="#000" stroke="#000" stroke-width="0.01">I</text><polygon points="360.70,25.20 363.30,25.20 370.00,5.80 367.40,5.80" fill="#000"/><text transform="translate(370.36 21.80) scale(1.1371 1)" font-family="Liberation Sans" font-weight="normal" font-style="normal" font-size="18.50" fill="#000">&#956;</text><text transform="translate(383.74 21.80) scale(0.9806 1)" font-family="Liberation Sans" font-weight="bold" font-style="normal" font-size="19.00" fill="#000" stroke="#000" stroke-width="0.01">A</text>
<text transform="translate(106.18 442.80) scale(0.7625 1)" font-family="Liberation Sans" font-weight="bold" font-style="normal" font-size="18.00" fill="#000" stroke="#000" stroke-width="0.35">E</text><polygon points="116.00,445.80 118.60,445.80 122.50,428.30 119.90,428.30" fill="#000"/><text transform="translate(124.78 442.80) scale(1.0034 1)" font-family="Liberation Sans" font-weight="bold" font-style="normal" font-size="18.00" fill="#000" stroke="#000" stroke-width="0.35">V</text><text transform="translate(143.84 442.80) scale(0.9235 1)" font-family="Liberation Sans" font-weight="bold" font-style="normal" font-size="18.00" fill="#000" stroke="#000" stroke-width="0.35">vs.</text><text transform="translate(172.87 442.80) scale(0.9668 1)" font-family="Liberation Sans" font-weight="bold" font-style="normal" font-size="18.00" fill="#000" stroke="#000" stroke-width="0.35">Ag</text><polygon points="195.80,445.80 198.40,445.80 205.00,428.30 202.40,428.30" fill="#000"/><text transform="translate(205.16 442.80) scale(0.9802 1)" font-family="Liberation Sans" font-weight="bold" font-style="normal" font-size="18.00" fill="#000" stroke="#000" stroke-width="0.35">Ag</text><text transform="translate(228.11 442.80) scale(0.7987 1)" font-family="Liberation Sans" font-weight="bold" font-style="normal" font-size="18.00" fill="#000" stroke="#000" stroke-width="0.35">C</text><text transform="translate(239.27 442.80) scale(1.2147 1)" font-family="Liberation Sans" font-weight="bold" font-style="normal" font-size="18.00" fill="#000" stroke="#000" stroke-width="0.35">l</text>
<text transform="translate(442.11 444.10) scale(0.8219 1)" font-family="Liberation Sans" font-weight="bold" font-style="normal" font-size="18.00" fill="#000" stroke="#000" stroke-width="0.35">E</text><polygon points="452.60,447.10 455.20,447.10 459.10,429.60 456.50,429.60" fill="#000"/><text transform="translate(460.77 444.10) scale(1.0289 1)" font-family="Liberation Sans" font-weight="bold" font-style="normal" font-size="18.00" fill="#000" stroke="#000" stroke-width="0.35">V</text><text transform="translate(479.84 444.10) scale(0.9235 1)" font-family="Liberation Sans" font-weight="bold" font-style="normal" font-size="18.00" fill="#000" stroke="#000" stroke-width="0.35">vs.</text><text transform="translate(509.23 444.10) scale(1.0429 1)" font-family="Liberation Sans" font-weight="bold" font-style="normal" font-size="18.00" fill="#000" stroke="#000" stroke-width="0.35">Ag</text><polygon points="533.70,447.10 536.30,447.10 543.50,429.60 540.90,429.60" fill="#000"/><text transform="translate(543.43 444.10) scale(1.0563 1)" font-family="Liberation Sans" font-weight="bold" font-style="normal" font-size="18.00" fill="#000" stroke="#000" stroke-width="0.35">Ag</text><polygon points="568.30,447.10 570.90,447.10 578.30,429.60 575.70,429.60" fill="#000"/><text transform="translate(578.40 444.10) scale(0.8157 1)" font-family="Liberation Sans" font-weight="bold" font-style="normal" font-size="18.00" fill="#000" stroke="#000" stroke-width="0.35">C</text><text transform="translate(588.47 444.10) scale(1.2147 1)" font-family="Liberation Sans" font-weight="bold" font-style="normal" font-size="18.00" fill="#000" stroke="#000" stroke-width="0.35">l</text>
<rect x="83.80" y="97.50" width="4.80" height="123.50" fill="#ff0a0a"/><polygon points="80.90,220.50 91.50,220.50 86.20,228.00" fill="#ff0a0a"/>
<rect x="427.35" y="90.30" width="5.30" height="124.70" fill="#ff0a0a"/><polygon points="424.80,214.50 435.20,214.50 430.00,221.30" fill="#ff0a0a"/>
<text transform="translate(81.24 93.30) scale(0.8193 1)" font-family="Liberation Sans" font-weight="bold" font-style="normal" font-size="19.00" fill="#000" stroke="#000" stroke-width="0.35">a</text>
<text transform="translate(77.54 249.50) scale(1.0124 1)" font-family="Liberation Serif" font-weight="bold" font-style="normal" font-size="23.50" fill="#000">d</text>
<text transform="translate(426.52 83.60) scale(0.8686 1)" font-family="Liberation Sans" font-weight="bold" font-style="normal" font-size="19.00" fill="#000" stroke="#000" stroke-width="0.35">a</text>
<text transform="translate(422.72 235.00) scale(1.0572 1)" font-family="Liberation Sans" font-weight="bold" font-style="normal" font-size="19.00" fill="#000" stroke="#000" stroke-width="0.35">e</text>
<text transform="translate(180.51 51.70) scale(0.8535 1)" font-family="Liberation Serif" font-weight="bold" font-style="normal" font-size="22.60" fill="#000" stroke="#000" stroke-width="0.35">A</text>
<text transform="translate(195.55 55.70) scale(1.1886 1)" font-family="Liberation Serif" font-weight="bold" font-style="normal" font-size="15.00" fill="#000" stroke="#000" stroke-width="0.30">2</text>
<text transform="translate(132.11 88.00) scale(0.8409 1)" font-family="Liberation Serif" font-weight="bold" font-style="normal" font-size="22.60" fill="#000" stroke="#000" stroke-width="0.35">A</text>
<text transform="translate(146.72 92.30) scale(1.2313 1)" font-family="Liberation Serif" font-weight="bold" font-style="normal" font-size="15.00" fill="#000" stroke="#000" stroke-width="0.30">1</text>
<text transform="translate(525.11 57.30) scale(0.8786 1)" font-family="Liberation Serif" font-weight="bold" font-style="normal" font-size="22.60" fill="#000" stroke="#000" stroke-width="0.35">A</text>
<text transform="translate(540.93 62.00) scale(1.2208 1)" font-family="Liberation Serif" font-weight="bold" font-style="normal" font-size="15.00" fill="#000" stroke="#000" stroke-width="0.30">2</text>
<text transform="translate(480.51 74.70) scale(0.8535 1)" font-family="Liberation Serif" font-weight="bold" font-style="normal" font-size="22.60" fill="#000" stroke="#000" stroke-width="0.35">A</text>
<text transform="translate(495.59 79.20) scale(1.1770 1)" font-family="Liberation Serif" font-weight="bold" font-style="normal" font-size="15.00" fill="#000" stroke="#000" stroke-width="0.30">1</text>
<text transform="translate(497.62 376.30) scale(0.8451 1)" font-family="Liberation Serif" font-weight="bold" font-style="normal" font-size="21.40" fill="#000" stroke="#000" stroke-width="0.35">C</text>
<text transform="translate(510.26 380.70) scale(1.1726 1)" font-family="Liberation Serif" font-weight="bold" font-style="normal" font-size="15.00" fill="#000" stroke="#000" stroke-width="0.30">2</text>
<rect x="270.2" y="44.2" width="4.6" height="22.5" rx="0.8" fill="#c00a16"/>
<rect x="604.7" y="45.4" width="4.6" height="23.2" rx="0.8" fill="#c00a16"/>
<rect x="614.1" y="45.4" width="4.7" height="23.2" rx="0.8" fill="#c00a16"/>
<text transform="translate(217.81 96.70) scale(0.8850 1)" font-family="Liberation Sans" font-weight="bold" font-style="italic" font-size="18.60" fill="#62268e" stroke="#62268e" stroke-width="0.30">E</text><text transform="translate(228.14 101.10) scale(1.0346 1)" font-family="Liberation Sans" font-weight="bold" font-style="normal" font-size="12.00" fill="#62268e" stroke="#62268e" stroke-width="0.35">app</text><text transform="translate(255.16 97.60) scale(0.9542 1)" font-family="Liberation Sans" font-weight="bold" font-style="normal" font-size="18.60" fill="#62268e" stroke="#62268e" stroke-width="0.35">=</text><text transform="translate(270.91 96.80) scale(1.0806 1)" font-family="Liberation Sans" font-weight="bold" font-style="normal" font-size="18.60" fill="#62268e" stroke="#62268e" stroke-width="0.35">0.40</text><text transform="translate(314.57 96.80) scale(1.0204 1)" font-family="Liberation Sans" font-weight="bold" font-style="normal" font-size="18.60" fill="#62268e" stroke="#62268e" stroke-width="0.35">V</text>
<text transform="translate(557.81 98.30) scale(0.8850 1)" font-family="Liberation Sans" font-weight="bold" font-style="italic" font-size="18.60" fill="#62268e" stroke="#62268e" stroke-width="0.30">E</text><text transform="translate(568.14 102.70) scale(1.0346 1)" font-family="Liberation Sans" font-weight="bold" font-style="normal" font-size="12.00" fill="#62268e" stroke="#62268e" stroke-width="0.35">app</text><text transform="translate(595.16 99.20) scale(0.9542 1)" font-family="Liberation Sans" font-weight="bold" font-style="normal" font-size="18.60" fill="#62268e" stroke="#62268e" stroke-width="0.35">=</text><text transform="translate(610.91 98.40) scale(1.0730 1)" font-family="Liberation Sans" font-weight="bold" font-style="normal" font-size="18.60" fill="#62268e" stroke="#62268e" stroke-width="0.35">0.55</text><text transform="translate(654.57 98.40) scale(1.0204 1)" font-family="Liberation Sans" font-weight="bold" font-style="normal" font-size="18.60" fill="#62268e" stroke="#62268e" stroke-width="0.35">V</text>
</svg>
</body></html>
